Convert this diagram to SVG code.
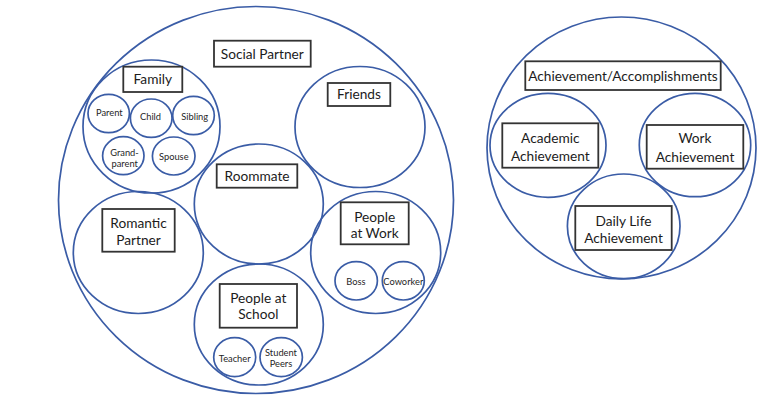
<svg xmlns="http://www.w3.org/2000/svg" width="762" height="403" viewBox="0 0 762 403">
<style>
.c{fill:none;stroke:#3a5ca6;stroke-width:1.7}
.b{fill:#fff;stroke:#333;stroke-width:1.8}
.t{font-family:Lato,"Open Sans","Liberation Sans",sans-serif;font-size:13.7px;fill:#1c1c1c;text-anchor:middle}
.s{font-family:Lato,"Open Sans","Liberation Sans",sans-serif;font-size:9.3px;fill:#262626;text-anchor:middle}
</style>
<rect width="762" height="403" fill="#fff"/>
<g id="social-partner">
<ellipse class="c" cx="256" cy="200" rx="197.5" ry="193.5"/>
<rect class="b" x="214" y="40.7" width="96.7" height="26"/>
<text class="t" x="262.3" y="58.5">Social Partner</text>
</g>
<g id="family">
<ellipse class="c" cx="151.5" cy="126.5" rx="68.5" ry="66.5"/>
<rect class="b" x="123.3" y="66.7" width="59" height="25.3"/>
<text class="t" x="152.8" y="84">Family</text>
</g>
<g id="parent"><ellipse class="c" cx="108.7" cy="113.5" rx="20.7" ry="19.2"/><text class="s" x="109.3" y="115.5">Parent</text></g>
<g id="child"><ellipse class="c" cx="151.2" cy="118.2" rx="20.8" ry="19.2"/><text class="s" x="150.5" y="120.3">Child</text></g>
<g id="sibling"><ellipse class="c" cx="193.5" cy="115.5" rx="20.8" ry="19.2"/><text class="s" x="194.7" y="119.5">Sibling</text></g>
<g id="grandparent"><ellipse class="c" cx="123.3" cy="155.7" rx="20.7" ry="19"/><text class="s" x="124.5" y="156">Grand-</text><text class="s" x="124.7" y="167.2">parent</text></g>
<g id="spouse"><ellipse class="c" cx="173.7" cy="156" rx="21.3" ry="19"/><text class="s" x="173.8" y="160.2">Spouse</text></g>
<g id="friends">
<ellipse class="c" cx="360" cy="127" rx="65" ry="60.5"/>
<rect class="b" x="327.7" y="83" width="62.6" height="23"/>
<text class="t" x="359" y="99.4">Friends</text>
</g>
<g id="roommate">
<ellipse class="c" cx="258.8" cy="204" rx="64.5" ry="60"/>
<rect class="b" x="216.7" y="164.3" width="80.6" height="23.4"/>
<text class="t" x="257" y="180.9">Roommate</text>
</g>
<g id="romantic-partner">
<ellipse class="c" cx="138.3" cy="252.5" rx="65" ry="61"/>
<rect class="b" x="102.3" y="209" width="72.4" height="42.7"/>
<text class="t" x="138.5" y="228.2">Romantic</text>
<text class="t" x="138.5" y="244.9">Partner</text>
</g>
<g id="people-at-work">
<ellipse class="c" cx="375.7" cy="252.5" rx="65" ry="61"/>
<rect class="b" x="340.7" y="202.3" width="68" height="42"/>
<text class="t" x="374.7" y="221.6">People</text>
<text class="t" x="374.7" y="237.6">at Work</text>
</g>
<g id="boss"><ellipse class="c" cx="356.2" cy="280.8" rx="21.2" ry="19.2"/><text class="s" x="356" y="284.5">Boss</text></g>
<g id="coworker"><ellipse class="c" cx="403.3" cy="280.8" rx="21" ry="19.2"/><text class="s" x="403.3" y="284.5">Coworker</text></g>
<g id="people-at-school">
<ellipse class="c" cx="258.8" cy="324.5" rx="64.5" ry="60.5"/>
<rect class="b" x="219.7" y="284" width="77.3" height="43.7"/>
<text class="t" x="258.3" y="302.6">People at</text>
<text class="t" x="258.3" y="319.2">School</text>
</g>
<g id="teacher"><ellipse class="c" cx="234.7" cy="357.2" rx="21" ry="19.5"/><text class="s" x="234.7" y="361.5">Teacher</text></g>
<g id="student-peers"><ellipse class="c" cx="281.2" cy="357.2" rx="21.2" ry="19.5"/><text class="s" x="281" y="356.2">Student</text><text class="s" x="281" y="367.2">Peers</text></g>
<g id="achievement">
<ellipse class="c" cx="621.5" cy="148" rx="134.5" ry="131"/>
<rect class="b" x="525.3" y="61.3" width="195.4" height="28.7"/>
<text class="t" x="623" y="80.6">Achievement/Accomplishments</text>
</g>
<g id="academic-achievement">
<ellipse class="c" cx="548" cy="145.3" rx="58" ry="52"/>
<rect class="b" x="502.3" y="123.3" width="96" height="44.4"/>
<text class="t" x="550.3" y="142.6">Academic</text>
<text class="t" x="550.3" y="160.9">Achievement</text>
</g>
<g id="work-achievement">
<ellipse class="c" cx="695" cy="145" rx="55.7" ry="51.7"/>
<rect class="b" x="646.7" y="125" width="96.6" height="43.7"/>
<text class="t" x="695" y="143.2">Work</text>
<text class="t" x="695" y="161.6">Achievement</text>
</g>
<g id="daily-life-achievement">
<ellipse class="c" cx="623.7" cy="226.3" rx="56.3" ry="52.3"/>
<rect class="b" x="575.3" y="206" width="96.4" height="44"/>
<text class="t" x="623.5" y="225.6">Daily Life</text>
<text class="t" x="623.5" y="243.2">Achievement</text>
</g>
<g id="connectors"></g>
</svg>
